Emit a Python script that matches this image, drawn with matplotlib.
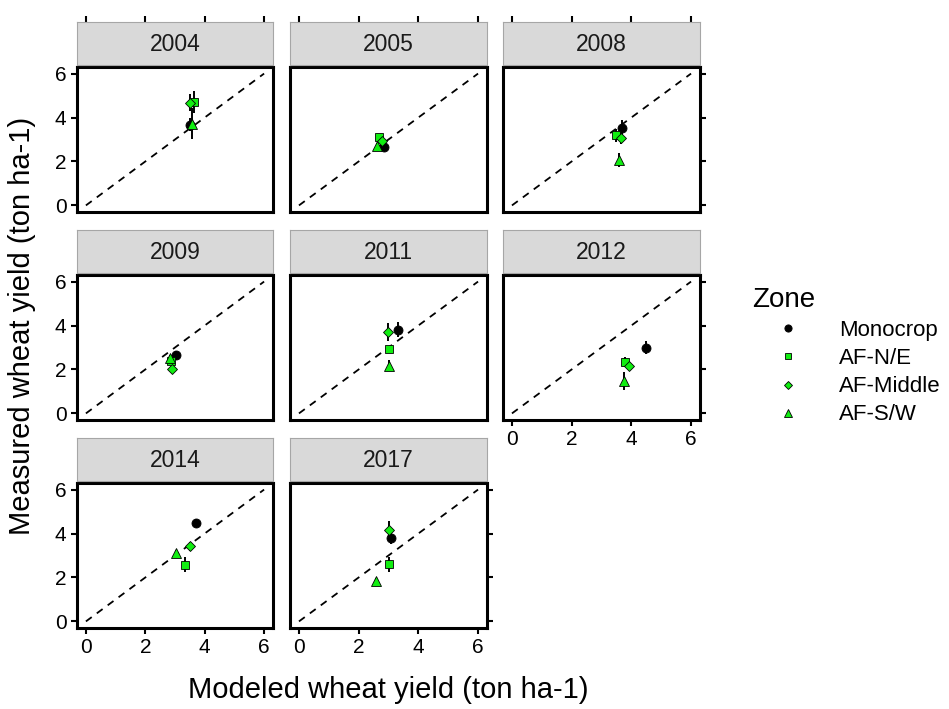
import matplotlib
matplotlib.use("Agg")
import matplotlib.pyplot as plt
from matplotlib.lines import Line2D

plt.rcParams['font.family'] = ['Liberation Sans', 'DejaVu Sans']

years = [2004, 2005, 2008, 2009, 2011, 2012, 2014, 2017]
zones = ["Monocrop", "AF-N/E", "AF-Middle", "AF-S/W"]

# modeled (x), measured (y) and error of measured, per year
mono_x = [3.49, 2.86, 3.70, 3.02, 3.33, 4.50, 3.71, 3.09]
mono_y = [3.68, 2.65, 3.53, 2.68, 3.81, 2.99, 4.49, 3.81]
mono_err = [0.30, 0.15, 0.35, 0.15, 0.35, 0.30, 0.15, 0.30]

ne_x = [3.65, 2.69, 3.48, 2.85, 3.03, 3.78, 3.32, 3.01]
ne_y = [4.70, 3.12, 3.19, 2.40, 2.92, 2.34, 2.59, 2.60]
ne_err = [0.50, 0.15, 0.30, 0.15, 0.15, 0.25, 0.35, 0.35]

mid_x = [3.50, 2.78, 3.67, 2.91, 3.00, 3.92, 3.52, 3.01]
mid_y = [4.68, 2.94, 3.09, 2.03, 3.70, 2.14, 3.41, 4.16]
mid_err = [0.40, 0.15, 0.30, 0.15, 0.40, 0.15, 0.20, 0.40]

sw_x = [3.58, 2.62, 3.59, 2.82, 3.01, 3.74, 3.04, 2.58]
sw_y = [3.72, 2.72, 2.08, 2.52, 2.18, 1.48, 3.11, 1.86]
sw_err = [0.70, 0.10, 0.32, 0.15, 0.25, 0.40, 0.15, 0.10]

green = '#11ee11'
series = [
    (mono_x, mono_y, mono_err, 'o', 'black', 6.5),
    (ne_x, ne_y, ne_err, 's', green, 5.5),
    (mid_x, mid_y, mid_err, 'D', green, 5.0),
    (sw_x, sw_y, sw_err, '^', green, 7.5),
]

W, H = 949, 709
fig = plt.figure(figsize=(W / 100, H / 100), dpi=100)


def box(x0, y0, x1, y1):
    return [x0 / W, 1 - y1 / H, (x1 - x0) / W, (y1 - y0) / H]


cols = [(77, 273), (290, 487), (503, 700)]
row_tops = [22, 230, 438]
strip_h, gap, panel_h = 43, 2, 145
ticks = [0, 2, 4, 6]
lims = (-0.3, 6.3)

for i, yr in enumerate(years):
    r, c = divmod(i, 3)
    x0, x1 = cols[c]
    top = row_tops[r]
    ax = fig.add_axes(box(x0, top + strip_h + gap, x1, top + strip_h + gap + panel_h))
    st = fig.add_axes(box(x0, top, x1, top + strip_h))

    # strip
    st.set_facecolor('#d9d9d9')
    for s in st.spines.values():
        s.set_color('#a6a6a6')
        s.set_linewidth(0.8)
    st.set_xlim(lims)
    st.set_ylim(0, 1)
    st.set_yticks([])
    st.text(0.5, 0.48, str(yr), transform=st.transAxes, ha='center', va='center',
            fontsize=16.5, color='#1a1a1a')
    if r == 0:
        st.xaxis.tick_top()
        st.set_xticks(ticks)
        st.tick_params(axis='x', length=4.5, width=1.5, labeltop=False, color='black')
    else:
        st.set_xticks([])

    # panel
    ax.plot([0, 6], [0, 6], ls=(0, (4, 3.5)), color='black', lw=1.3, zorder=1)
    for xs, ys, es, m, col, ms in series:
        ax.errorbar(xs[i], ys[i], yerr=es[i], fmt='none', ecolor='black', elinewidth=1.4, zorder=2)
        ax.plot(xs[i], ys[i], marker=m, color=col, mec='black', mew=0.6, ms=ms, ls='none', zorder=3)
    ax.set_xlim(lims)
    ax.set_ylim(lims)
    for s in ax.spines.values():
        s.set_linewidth(2.2)
    ax.set_xticks(ticks)
    ax.set_yticks(ticks)
    show_left = c == 0
    show_right = c == 2 or i == len(years) - 1
    show_bottom = i >= 5
    ax.tick_params(axis='both', length=4.5, width=1.5, labelsize=15, pad=3,
                   left=show_left, labelleft=show_left,
                   right=show_right, labelright=False,
                   bottom=show_bottom, labelbottom=show_bottom, top=False)

fig.text(388 / W, 1 - 690 / H, "Modeled wheat yield (ton ha-1)", ha='center', va='center', fontsize=21)
fig.text(22 / W, 1 - 326 / H, "Measured wheat yield (ton ha-1)", ha='center', va='center',
         rotation=90, fontsize=21)

handles = [Line2D([], [], marker=m, color=col, mec='black', mew=0.6, ms=ms * 0.8, ls='none')
           for _, _, _, m, col, ms in series]
leg = fig.legend(handles, zones, loc='upper left', bbox_to_anchor=(752 / W, 1 - 287 / H),
                 title="Zone", frameon=False, fontsize=16, title_fontsize=20,
                 borderpad=0, borderaxespad=0, handlelength=3.2, handletextpad=0.7,
                 labelspacing=0.32)
leg._legend_box.align = "left"

fig.savefig("out.png", dpi=100)
